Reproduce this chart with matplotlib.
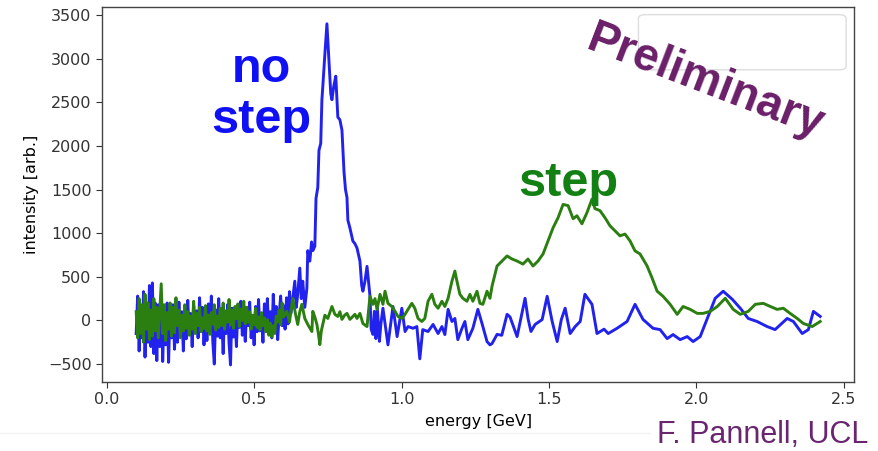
import numpy as np
import matplotlib.pyplot as plt
from matplotlib.patches import FancyBboxPatch
from matplotlib.lines import Line2D

# shared energy grid of the noisy low-energy part [GeV]
energy_low = [0.100, 0.105, 0.110, 0.115, 0.120, 0.125, 0.130, 0.135, 0.140, 0.145,
              0.150, 0.155, 0.160, 0.165, 0.170, 0.175, 0.180, 0.185, 0.190, 0.195,
              0.200, 0.205, 0.210, 0.215, 0.220, 0.225, 0.230, 0.235, 0.240, 0.245,
              0.250, 0.255, 0.260, 0.265, 0.270, 0.275, 0.280, 0.285, 0.290, 0.295,
              0.300, 0.305, 0.310, 0.315, 0.320, 0.325, 0.330, 0.335, 0.340, 0.345,
              0.350, 0.355, 0.360, 0.365, 0.370, 0.375, 0.380, 0.385, 0.390, 0.395,
              0.400, 0.405, 0.410, 0.415, 0.420, 0.425, 0.430, 0.435, 0.440, 0.445,
              0.450, 0.455, 0.460, 0.465, 0.470, 0.475, 0.480, 0.485, 0.490, 0.495,
              0.500, 0.505, 0.510, 0.515, 0.520, 0.525, 0.530, 0.535, 0.540, 0.545,
              0.550, 0.555, 0.560, 0.565, 0.570, 0.575, 0.580, 0.585, 0.590, 0.595,
              0.600]

nostep_low = [-150, 280, -350, 150, -200, 330, -420, 120, -250, 400,
              -300, 430, -380, 200, -460, 180, -300, 260, -470, 90,
              -280, 200, -480, 150, -200, 180, -330, 60, -250, 210,
              -180, 100, -350, 140, -210, 230, -160, 80, -300, 170,
              -140, 110, -200, 260, -120, 150, -280, 60, -230, 190,
              -100, 280, -250, -500, 120, -180, 250, -200, 60, -380,
              100, -150, 180, -260, -510, 140, -190, 60, -300, 120,
              -80, 220, -170, 90, -240, 150, -60, 210, -200, 40,
              -280, 160, -130, 240, -120, 70, -250, 190, -60, 250,
              -150, 100, -200, 300, -80, 160, -220, 60, 280, -60,
              170]

step_low = [100, -200, 250, -150, 180, -250, 300, -100, 200, -220,
            120, -180, 250, -120, 150, -200, 100, 420, -150, 180,
            -230, 90, -100, 200, -180, 150, -140, 260, -60, 120,
            -200, 60, -120, 180, -90, 100, -170, 50, -100, 220,
            -150, 80, -60, 150, -130, 30, -90, 170, -120, 60,
            -160, 90, -40, 180, -110, 50, -80, 140, -60, 200,
            -100, 110, -20, 240, -50, 120, -90, 160, 20, 190,
            -70, 130, 0, 220, -40, 150, -20, 100, -100, 60,
            -50, 140, -80, 40, -110, 90, -60, 30, -130, 10,
            -170, -30, -190, -60, -150, 50, -20, 120, -50, 200,
            40]

# "no step" above 0.6 GeV
nostep_energy = [0.605, 0.610, 0.615, 0.620, 0.625, 0.631, 0.638, 0.643, 0.648, 0.655,
                 0.660, 0.665, 0.672, 0.679, 0.682, 0.689, 0.695, 0.699, 0.706, 0.710,
                 0.716, 0.720, 0.726, 0.730, 0.733, 0.740, 0.747, 0.754, 0.760, 0.764,
                 0.770, 0.777, 0.784, 0.791, 0.798, 0.805, 0.810, 0.815, 0.818, 0.825,
                 0.835, 0.842, 0.849, 0.859, 0.865, 0.869, 0.876, 0.883, 0.888, 0.893,
                 0.897, 0.903, 0.908, 0.913, 0.918, 0.925, 0.930, 0.937, 0.954, 0.971,
                 0.985, 1.001, 1.012, 1.022, 1.039, 1.052, 1.062, 1.072, 1.090, 1.107,
                 1.124, 1.137, 1.147, 1.158, 1.171, 1.181, 1.191, 1.205, 1.215, 1.225,
                 1.242, 1.259, 1.273, 1.290, 1.300, 1.307, 1.324, 1.340, 1.358, 1.368,
                 1.392, 1.419, 1.429, 1.439, 1.453, 1.477, 1.494, 1.511, 1.528, 1.542,
                 1.555, 1.572, 1.589, 1.606, 1.622, 1.646, 1.663, 1.687, 1.701, 1.731,
                 1.765, 1.792, 1.819, 1.853, 1.877, 1.901, 1.921, 1.945, 1.969, 1.989,
                 2.013, 2.037, 2.064, 2.091, 2.122, 2.149, 2.176, 2.206, 2.240, 2.267,
                 2.308, 2.329, 2.359, 2.380, 2.397, 2.420]
nostep_value = [-100, 260, -40, 330, 80, 254, 450, 150, 300, 600,
                250, 450, 150, 370, 800, 680, 900, 800, 850, 1400,
                1525, 1950, 2030, 2530, 2680, 3050, 3400, 2980, 2600, 2530,
                2680, 2800, 2330, 2300, 2180, 1700, 1500, 1410, 1150, 1060,
                910, 880, 830, 680, 400, 335, 450, 620, 450, 280,
                -100, -160, 104, -208, 140, -240, -40, 140, -280, 160,
                -185, 140, -127, -70, -90, -70, -440, -105, -127, -46,
                -150, -70, -162, 127, -12, 23, -220, -90, -12, -220,
                -90, 127, -35, -242, -280, -265, -160, -170, 70, 40,
                -185, 254, 23, -127, -46, 10, 277, -12, -242, 10,
                140, -150, -70, -12, 300, 185, -150, -100, -150, -90,
                -12, 185, 12, -90, -105, -208, -162, -220, -185, -242,
                -185, 23, 254, 335, 242, 140, 23, -12, -70, -105,
                23, -12, -150, -105, 104, 46]

# "step" above 0.6 GeV
step_energy = [0.611, 0.620, 0.631, 0.640, 0.648, 0.655, 0.662, 0.672, 0.682, 0.696,
               0.699, 0.706, 0.713, 0.718, 0.723, 0.728, 0.733, 0.740, 0.750, 0.757,
               0.764, 0.774, 0.784, 0.791, 0.798, 0.807, 0.815, 0.825, 0.835, 0.842,
               0.849, 0.859, 0.869, 0.883, 0.893, 0.903, 0.910, 0.917, 0.927, 0.937,
               0.944, 0.954, 0.967, 0.978, 0.988, 1.001, 1.012, 1.022, 1.035, 1.045,
               1.056, 1.069, 1.079, 1.090, 1.103, 1.113, 1.124, 1.137, 1.147, 1.158,
               1.171, 1.181, 1.188, 1.198, 1.208, 1.222, 1.232, 1.242, 1.256, 1.266,
               1.276, 1.290, 1.300, 1.307, 1.317, 1.324, 1.341, 1.358, 1.375, 1.392,
               1.412, 1.429, 1.446, 1.463, 1.480, 1.497, 1.514, 1.531, 1.548, 1.565,
               1.582, 1.595, 1.612, 1.629, 1.646, 1.656, 1.673, 1.690, 1.707, 1.724,
               1.741, 1.758, 1.775, 1.792, 1.809, 1.833, 1.850, 1.867, 1.887, 1.911,
               1.935, 1.955, 1.979, 2.003, 2.023, 2.047, 2.071, 2.098, 2.125, 2.149,
               2.176, 2.200, 2.227, 2.251, 2.274, 2.295, 2.318, 2.342, 2.363, 2.393,
               2.420]
step_value = [104, -20, 254, 80, -46, 100, 185, 23, -46, -127,
              104, 40, -46, -150, -277, -120, -46, 60, 23, 90,
              160, 70, 46, 100, 12, 60, 81, 12, 46, 70,
              23, 81, -35, -70, 277, 185, 250, 127, 300, 185,
              335, 196, 160, 104, 46, 23, 70, 127, 196, 140,
              23, -12, 23, 220, 300, 185, 140, 220, 160, 254,
              450, 566, 450, 300, 254, 220, 300, 220, 335, 196,
              185, 335, 254, 393, 530, 624, 681, 739, 704, 681,
              646, 704, 624, 681, 762, 912, 1062, 1178, 1330, 1316,
              1166, 1200, 1108, 1236, 1390, 1282, 1259, 1178, 1085, 1028,
              970, 990, 912, 797, 762, 624, 485, 335, 277, 185,
              70, 160, 127, 81, 81, 104, 160, 254, 127, 70,
              104, 185, 196, 160, 127, 140, 81, 23, -35, -70,
              -12]

blue_x = energy_low + nostep_energy
blue_y = nostep_low + nostep_value
green_x = energy_low + step_energy
green_y = step_low + step_value

plt.rcParams['font.size'] = 11.5
fig = plt.figure(figsize=(8.79, 4.51), dpi=100)
ax = fig.add_axes([0.116, 0.153, 0.856, 0.832])

ax.plot(blue_x, blue_y, color='#2222ee', lw=2.1)
ax.plot(green_x, green_y, color='#2a7f10', lw=2.1)

ax.set_xticks([0.0, 0.5, 1.0, 1.5, 2.0, 2.5])
ax.set_yticks([-500, 0, 500, 1000, 1500, 2000, 2500, 3000, 3500])
ax.set_xlabel('energy [GeV]', labelpad=5)
ax.set_ylabel('intensity [arb.]', labelpad=6)
ax.tick_params(length=4, color='#333333', labelcolor='#333333')
for sp in ax.spines.values():
    sp.set_color('#444444')
    sp.set_linewidth(1.0)

# empty legend frame
box = FancyBboxPatch((0.713, 0.832), 0.276, 0.147, boxstyle='round,pad=0,rounding_size=0.01',
                     transform=ax.transAxes, facecolor='white', edgecolor='#dddddd', lw=1.0)
ax.add_patch(box)

# faint line of the slide under the plot
fig.add_artist(Line2D([0.0, 0.74], [0.04, 0.04], color='#f2f2f2', lw=1.0))

bold = dict(family=['Liberation Sans', 'DejaVu Sans'], weight='bold')
fig.text(0.297, 0.789, 'no\nstep', color='#1010f5', fontsize=35, ha='center', va='center',
         linespacing=1.18, **bold)
fig.text(0.646, 0.594, 'step', color='#128012', fontsize=35, ha='center', va='center', **bold)
fig.text(0.803, 0.818, 'Preliminary', color='#6a1f68', fontsize=33, ha='center', va='center',
         rotation=-21, rotation_mode='anchor', **bold)
fig.text(0.9875, 0.018, 'F. Pannell, UCL', color='#6a2570', fontsize=22, ha='right',
         va='baseline', family=['Liberation Sans', 'DejaVu Sans'])

fig.savefig('out.png', dpi=100)
